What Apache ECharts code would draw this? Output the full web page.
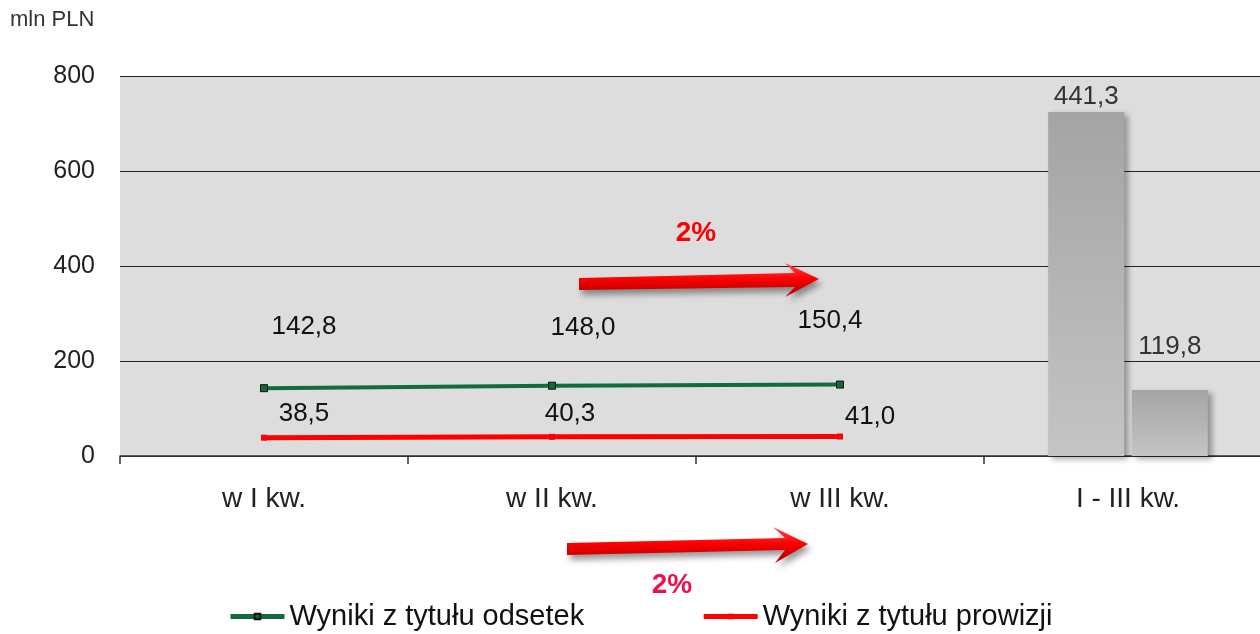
<!DOCTYPE html>
<html><head><meta charset="utf-8">
<script src="https://cdn.jsdelivr.net/npm/echarts@6/dist/echarts.min.js"></script>
<style>html,body{margin:0;padding:0;background:#fff}#c{width:1260px;height:634px}</style>
</head><body><div id="c"></div>
<script>
// ---- data ----
const categories = ['w I kw.', 'w II kw.', 'w III kw.', 'I - III kw.'];
const interestName = 'Wyniki z tytułu odsetek';
const commissionName = 'Wyniki z tytułu prowizji';
const interestValues = [142.8, 148.0, 150.4];
const commissionValues = [38.5, 40.3, 41.0];
const totalLabels = [441.3, 119.8];          // labels printed over the I - III kw. bars
const totalBarHeights = [724, 139];          // bar heights as drawn against the axis in the reference
const yMin = 0, yMax = 800, yStep = 200;
const unitLabel = 'mln PLN';
const changeLabels = ['2%', '2%'];

// ---- layout / style (not data) ----
const FONT = "'Liberation Sans', Arial, sans-serif";
const interestLabelOffsets = [[40, -61], [31, -58], [-10, -64]];
const commissionLabelOffsets = [[40, -24], [18, -23], [30, -20]];
const fmt = v => v.toFixed(1).replace('.', ',');

const chart = echarts.init(document.getElementById('c'));

function pad(arr, n) { const out = arr.slice(); while (out.length < n) out.push(null); return out; }

const interestData = pad(interestValues.map((v, i) => ({
  value: v, label: { offset: interestLabelOffsets[i] }
})), categories.length);
const commissionData = pad(commissionValues.map((v, i) => ({
  value: v, label: { offset: commissionLabelOffsets[i] }
})), categories.length);

const barGradient = new echarts.graphic.LinearGradient(0, 0, 0, 1, [
  { offset: 0, color: '#a4a4a4' }, { offset: 1, color: '#c4c4c4' }
]);
const arrowGradient = new echarts.graphic.LinearGradient(0, 0, 0, 1, [
  { offset: 0, color: '#ff4a4a' }, { offset: 0.45, color: '#ff0000' }, { offset: 1, color: '#a80000' }
]);

const totalIndex = categories.length - 1;
function barData(k) {
  const d = [null, null, null, null];
  d[totalIndex] = { value: totalBarHeights[k], labelText: fmt(totalLabels[k]) };
  return d;
}

const option = {
  animation: false,
  textStyle: { fontFamily: FONT },
  grid: { left: 120, width: 1152, top: 76, bottom: 178, show: true, backgroundColor: '#dddddd', borderWidth: 0,
    containLabel: false, outerBoundsMode: 'none' },
  xAxis: {
    type: 'category', data: categories, boundaryGap: true,
    axisLine: { lineStyle: { color: '#333', width: 1.5 } },
    axisTick: { show: true, length: 8, lineStyle: { color: '#333', width: 1.5 } },
    axisLabel: { fontSize: 28, color: '#222', margin: 29, fontFamily: FONT }
  },
  yAxis: {
    type: 'value', min: yMin, max: yMax, interval: yStep,
    axisLine: { show: false }, axisTick: { show: false },
    axisLabel: { fontSize: 25, color: '#222', margin: 25, fontFamily: FONT },
    splitLine: { lineStyle: { color: '#222', width: 1.2 } }
  },
  legend: {
    data: [interestName, commissionName],
    left: 228, top: 602, padding: 0, itemGap: 117, itemWidth: 54, itemHeight: 7,
    lineStyle: { width: 5 },
    textStyle: { fontSize: 29, color: '#111', fontFamily: FONT }
  },
  graphic: [
    { type: 'text', left: 10, top: 9, style: { text: unitLabel, fill: '#333', font: '22px ' + FONT } },
    {
      type: 'polygon', z: 100,
      shape: { points: [[579, 278], [795, 273], [785, 263], [819, 279], [785, 297], [795, 287], [579, 290]] },
      style: { fill: arrowGradient, shadowBlur: 6, shadowOffsetX: 3, shadowOffsetY: 5, shadowColor: 'rgba(0,0,0,0.4)' }
    },
    {
      type: 'polygon', z: 100,
      shape: { points: [[567, 543], [785, 538], [773, 527], [808, 544], [775, 563], [785, 550], [567, 555]] },
      style: { fill: arrowGradient, shadowBlur: 6, shadowOffsetX: 3, shadowOffsetY: 5, shadowColor: 'rgba(0,0,0,0.4)' }
    },
    { type: 'text', z: 100, x: 696, y: 233, style: { text: changeLabels[0], fill: '#ff0000', font: 'bold 28px ' + FONT, align: 'center', verticalAlign: 'middle', textAlign: 'center', textVerticalAlign: 'middle' } },
    { type: 'text', z: 100, x: 672, y: 585, style: { text: changeLabels[1], fill: '#f0104a', font: 'bold 28px ' + FONT, align: 'center', verticalAlign: 'middle', textAlign: 'center', textVerticalAlign: 'middle' } }
  ],
  series: [
    {
      name: 'total1', type: 'bar', data: barData(0), barWidth: 76, barGap: '10%',
      itemStyle: { color: barGradient, shadowBlur: 6, shadowOffsetX: 4, shadowOffsetY: 3, shadowColor: 'rgba(0,0,0,0.35)' },
      label: { show: true, position: 'top', distance: 2, fontSize: 26, color: '#333', fontFamily: FONT,
        formatter: p => p.data.labelText }
    },
    {
      name: 'total2', type: 'bar', data: barData(1), barWidth: 76,
      itemStyle: { color: barGradient, shadowBlur: 6, shadowOffsetX: 4, shadowOffsetY: 3, shadowColor: 'rgba(0,0,0,0.35)' },
      label: { show: true, position: 'top', distance: 2, offset: [0, -28], fontSize: 26, color: '#333', fontFamily: FONT,
        formatter: p => p.data.labelText }
    },
    {
      name: interestName, type: 'line', data: interestData, z: 5,
      symbol: 'rect', symbolSize: 7, showAllSymbol: true,
      lineStyle: { color: '#106c3c', width: 4 },
      itemStyle: { color: '#0f6a3a', borderColor: '#111', borderWidth: 1 },
      label: { show: true, position: 'inside', fontSize: 26, color: '#111', fontFamily: FONT, formatter: p => fmt(p.value) }
    },
    {
      name: commissionName, type: 'line', data: commissionData, z: 5,
      symbol: 'rect', symbolSize: 6, showAllSymbol: true,
      lineStyle: { color: '#ff0000', width: 5 },
      itemStyle: { color: '#ff0000', borderWidth: 0 },
      label: { show: true, position: 'inside', fontSize: 26, color: '#111', fontFamily: FONT, formatter: p => fmt(p.value) }
    }
  ]
};
chart.setOption(option);
</script>
</body></html>
